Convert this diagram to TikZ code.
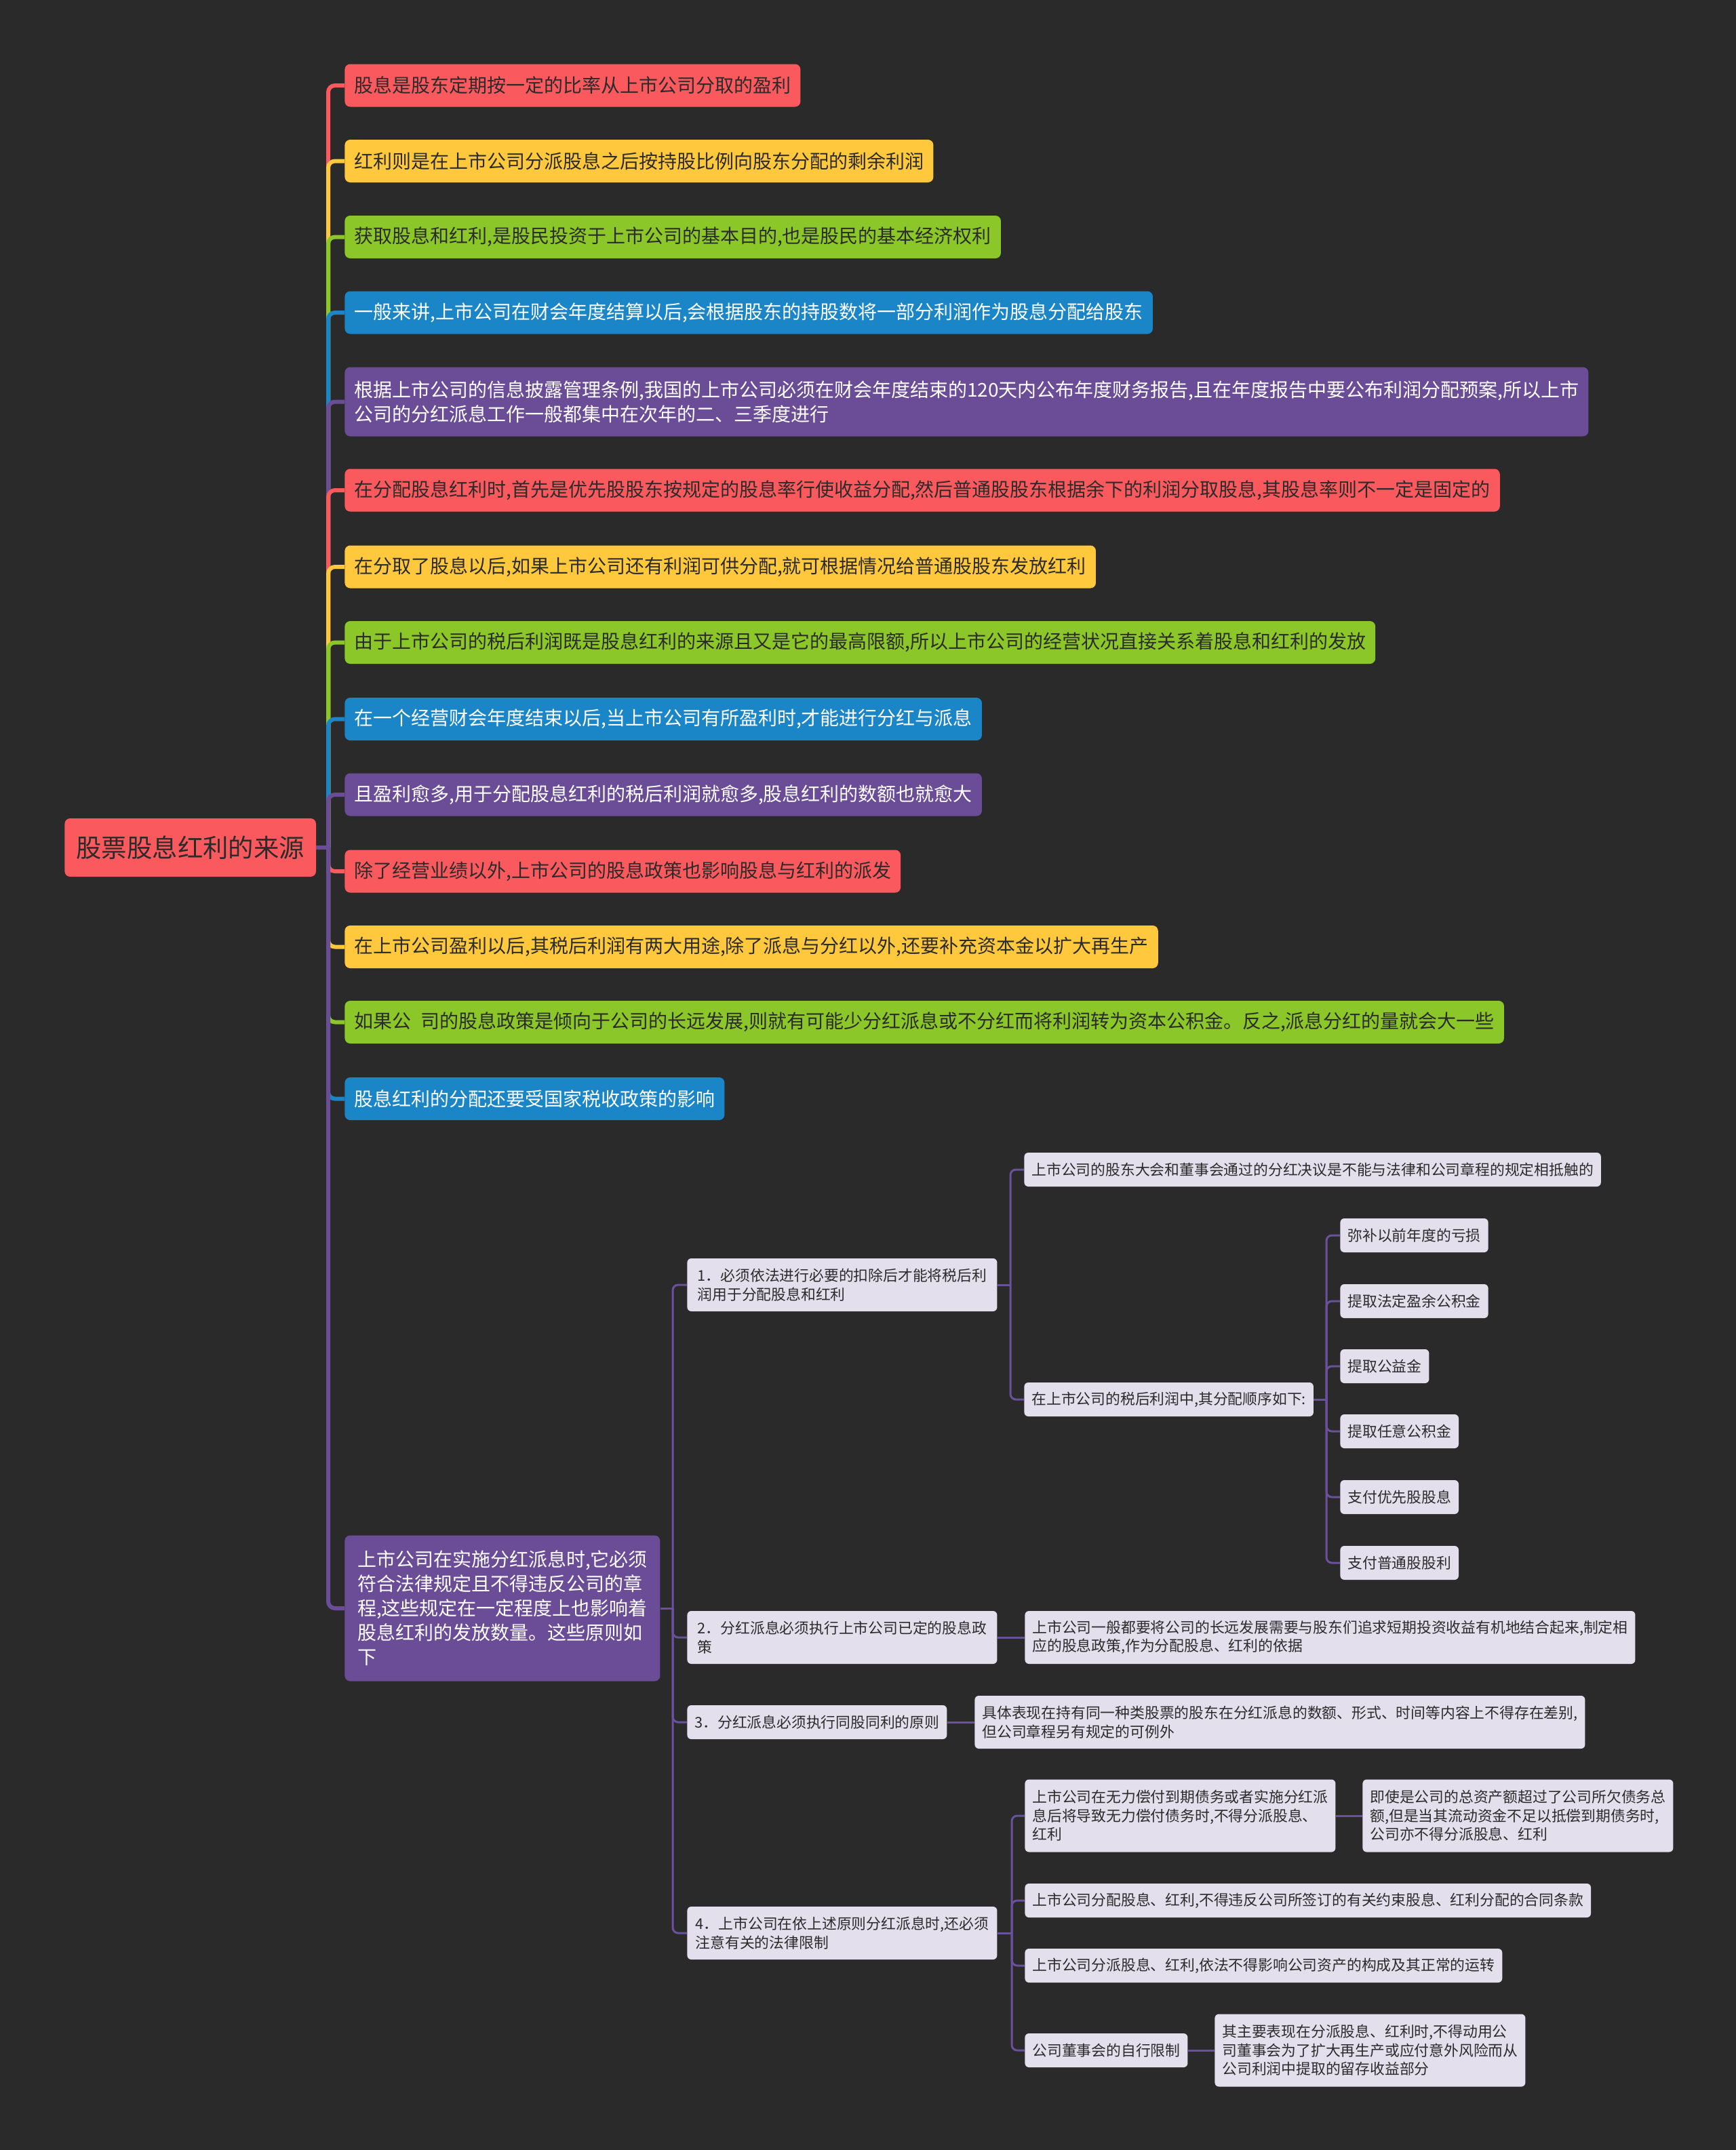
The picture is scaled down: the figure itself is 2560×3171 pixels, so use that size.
\documentclass[tikz,border=0pt]{standalone}
\usepackage{fontspec}
\setmainfont{Noto Sans CJK SC}
\definecolor{bg}{HTML}{2A2A2A}
\definecolor{cred}{HTML}{FA5A5E}
\definecolor{cyel}{HTML}{FFC83D}
\definecolor{cgrn}{HTML}{8BC728}
\definecolor{cblu}{HTML}{1A86C8}
\definecolor{cpur}{HTML}{6A4D96}
\definecolor{clight}{HTML}{E4DFEC}
\definecolor{cdark}{HTML}{2B2B2B}
\definecolor{cline}{HTML}{6B509C}
\tikzset{
  rootbox/.style={fill=cred,text=cdark,rounded corners=4pt,inner xsep=8.5pt,inner ysep=0pt,
    minimum height=43pt,font=\fontsize{18.7pt}{22pt}\selectfont},
  lone/.style={rounded corners=4pt,inner xsep=7pt,inner ysep=0pt,anchor=west,align=left,
    minimum height=31.5pt,font=\fontsize{14pt}{18pt}\selectfont},
  lred/.style={lone,fill=cred,text=cdark},
  lyel/.style={lone,fill=cyel,text=cdark},
  lgrn/.style={lone,fill=cgrn,text=cdark},
  lblu/.style={lone,fill=cblu,text=white},
  lpur/.style={lone,fill=cpur,text=white},
  lbox/.style={fill=clight,text=cdark,rounded corners=3pt,inner xsep=5.5pt,inner ysep=0pt,
    anchor=west,align=left,minimum height=25pt,font=\fontsize{10.9pt}{13.75pt}\selectfont},
  bra/.style={line width=3pt,rounded corners=5pt},
  sub/.style={draw=cline,line width=1.5pt,rounded corners=4pt},
}
\begin{document}
\begin{tikzpicture}[x=0.5pt,y=-0.5pt]
\fill[bg] (0,0) rectangle (2560,3171);
\useasboundingbox (0,0) rectangle (2560,3171);

% root
\node[rootbox,anchor=west] (root) at (95,1250) {股票股息红利的来源};
\coordinate (trunk) at (484,1250);

% level 1
\node[lred] (n1) at (508,126) {股息是股东定期按一定的比率从上市公司分取的盈利};
\node[lyel] (n2) at (508,237.5) {红利则是在上市公司分派股息之后按持股比例向股东分配的剩余利润};
\node[lgrn] (n3) at (508,349.5) {获取股息和红利,是股民投资于上市公司的基本目的,也是股民的基本经济权利};
\node[lblu] (n4) at (508,461) {一般来讲,上市公司在财会年度结算以后,会根据股东的持股数将一部分利润作为股息分配给股东};
\node[lpur,minimum height=51pt] (n5) at (508,592.5) {根据上市公司的信息披露管理条例,我国的上市公司必须在财会年度结束的120天内公布年度财务报告,且在年度报告中要公布利润分配预案,所以上市\\公司的分红派息工作一般都集中在次年的二、三季度进行};
\node[lred] (n6) at (508,723) {在分配股息红利时,首先是优先股股东按规定的股息率行使收益分配,然后普通股股东根据余下的利润分取股息,其股息率则不一定是固定的};
\node[lyel] (n7) at (508,836) {在分取了股息以后,如果上市公司还有利润可供分配,就可根据情况给普通股股东发放红利};
\node[lgrn] (n8) at (508,947.5) {由于上市公司的税后利润既是股息红利的来源且又是它的最高限额,所以上市公司的经营状况直接关系着股息和红利的发放};
\node[lblu] (n9) at (508,1060.5) {在一个经营财会年度结束以后,当上市公司有所盈利时,才能进行分红与派息};
\node[lpur] (n10) at (508,1172) {且盈利愈多,用于分配股息红利的税后利润就愈多,股息红利的数额也就愈大};
\node[lred] (n11) at (508,1285) {除了经营业绩以外,上市公司的股息政策也影响股息与红利的派发};
\node[lyel] (n12) at (508,1396.5) {在上市公司盈利以后,其税后利润有两大用途,除了派息与分红以外,还要补充资本金以扩大再生产};
\node[lgrn] (n13) at (508,1507.5) {如果公\hspace{0.5em}司的股息政策是倾向于公司的长远发展,则就有可能少分红派息或不分红而将利润转为资本公积金。反之,派息分红的量就会大一些};
\node[lblu] (n14) at (508,1620.5) {股息红利的分配还要受国家税收政策的影响};
\node[lpur,minimum height=107.5pt,minimum width=232.5pt] (n15) at (508,2372) {上市公司在实施分红派息时,它必须\\符合法律规定且不得违反公司的章\\程,这些规定在一定程度上也影响着\\股息红利的发放数量。这些原则如\\下};

% branches level 1
\draw[cpur,line width=3pt] (root.east) -- (trunk);
\foreach \k/\c in {1/cred,2/cyel,3/cgrn,4/cblu,5/cpur,6/cred,7/cyel,8/cgrn,9/cblu,10/cpur,11/cred,12/cyel,13/cgrn,14/cblu,15/cpur}{
  \draw[bra,\c] (trunk) |- (n\k.west);
}

% level 2
\node[lbox,minimum height=39pt,minimum width=228.5pt] (a1) at (1013,1895) {1．必须依法进行必要的扣除后才能将税后利\\润用于分配股息和红利};
\node[lbox,minimum height=39pt,minimum width=228.5pt] (a2) at (1013,2415) {2．分红派息必须执行上市公司已定的股息政\\策};
\node[lbox] (a3) at (1013,2540) {3．分红派息必须执行同股同利的原则};
\node[lbox,minimum height=39pt,minimum width=228.5pt] (a4) at (1013,2851) {4．上市公司在依上述原则分红派息时,还必须\\注意有关的法律限制};

\coordinate (j15) at (992,2372);
\draw[sub] (n15.east) -- (j15);
\foreach \k in {1,2,3,4}{ \draw[sub] (j15) |- (a\k.west); }

% level 3 under a1
\node[lbox] (b1) at (1510,1725) {上市公司的股东大会和董事会通过的分红决议是不能与法律和公司章程的规定相抵触的};
\node[lbox] (b2) at (1510,2064) {在上市公司的税后利润中,其分配顺序如下:};
\coordinate (ja1) at (1490,1895);
\draw[sub] (a1.east) -- (ja1);
\draw[sub] (ja1) |- (b1.west);
\draw[sub] (ja1) |- (b2.west);

% level 4 under b2
\node[lbox] (c1) at (1976,1822) {弥补以前年度的亏损};
\node[lbox] (c2) at (1976,1919) {提取法定盈余公积金};
\node[lbox] (c3) at (1976,2015) {提取公益金};
\node[lbox] (c4) at (1976,2111) {提取任意公积金};
\node[lbox] (c5) at (1976,2208) {支付优先股股息};
\node[lbox] (c6) at (1976,2305) {支付普通股股利};
\coordinate (jb2) at (1956,2064);
\draw[sub] (b2.east) -- (jb2);
\foreach \k in {1,...,6}{ \draw[sub] (jb2) |- (c\k.west); }

% under a2, a3
\node[lbox,minimum height=39pt] (d2) at (1511,2415) {上市公司一般都要将公司的长远发展需要与股东们追求短期投资收益有机地结合起来,制定相\\应的股息政策,作为分配股息、红利的依据};
\draw[sub] (a2.east) -- (d2.west);
\node[lbox,minimum height=39pt] (d3) at (1437,2540) {具体表现在持有同一种类股票的股东在分红派息的数额、形式、时间等内容上不得存在差别,\\但公司章程另有规定的可例外};
\draw[sub] (a3.east) -- (d3.west);

% under a4
\node[lbox,minimum height=53.5pt,minimum width=228pt] (e1) at (1511,2678) {上市公司在无力偿付到期债务或者实施分红派\\息后将导致无力偿付债务时,不得分派股息、\\红利};
\node[lbox] (e2) at (1511,2803) {上市公司分配股息、红利,不得违反公司所签订的有关约束股息、红利分配的合同条款};
\node[lbox] (e3) at (1511,2899) {上市公司分派股息、红利,依法不得影响公司资产的构成及其正常的运转};
\node[lbox] (e4) at (1511,3024) {公司董事会的自行限制};
\coordinate (ja4) at (1492,2851);
\draw[sub] (a4.east) -- (ja4);
\foreach \k in {1,...,4}{ \draw[sub] (ja4) |- (e\k.west); }

\node[lbox,minimum height=53.5pt,minimum width=228pt] (f1) at (2009,2678) {即使是公司的总资产额超过了公司所欠债务总\\额,但是当其流动资金不足以抵偿到期债务时,\\公司亦不得分派股息、红利};
\draw[sub] (e1.east) -- (f1.west);
\node[lbox,minimum height=53.5pt,minimum width=228pt] (f4) at (1791,3024) {其主要表现在分派股息、红利时,不得动用公\\司董事会为了扩大再生产或应付意外风险而从\\公司利润中提取的留存收益部分};
\draw[sub] (e4.east) -- (f4.west);
\end{tikzpicture}
\end{document}
